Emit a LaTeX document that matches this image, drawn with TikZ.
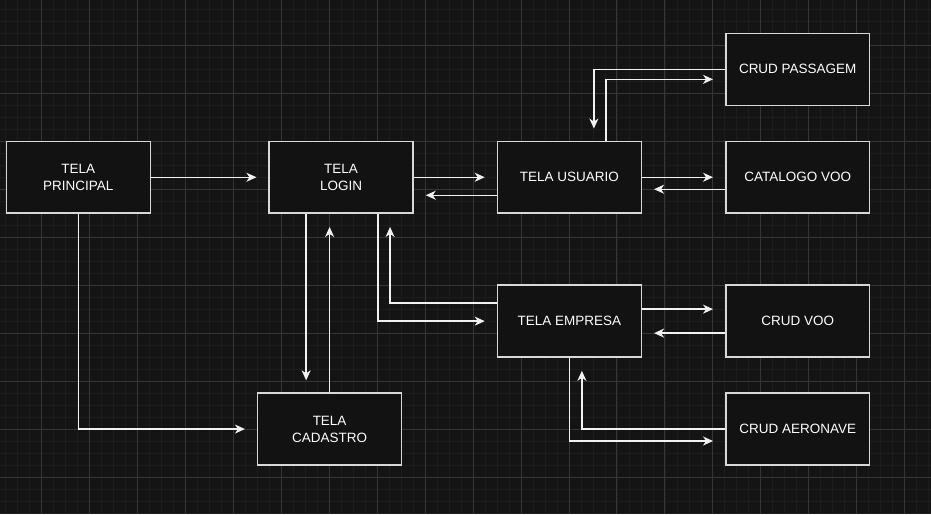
\documentclass[tikz,border=0pt]{standalone}
\usepackage{fontspec}
\setmainfont{Liberation Sans}
\usepackage{tikz}
\usetikzlibrary{arrows.meta,calc}
\definecolor{uibg}{HTML}{141414}
\definecolor{uigridmin}{HTML}{1D1D1D}
\definecolor{uigridmaj}{HTML}{363636}
\definecolor{uibox}{HTML}{121212}
\definecolor{uiline}{HTML}{D8D8D8}
\definecolor{uiarr}{HTML}{F2F2F2}

\begin{document}
\begin{tikzpicture}[
  x=1pt, y=-1pt,
  tela/.style={rectangle, draw=uiline, fill=uibox, line width=1.5pt,
               minimum width=144pt, minimum height=72pt, inner sep=0pt,
               align=center, text=white,
               font=\fontsize{13.5}{17}\selectfont},
  arr/.style={-{Stealth[length=10pt,width=9pt,inset=3pt]}, line width=1.4pt,
              draw=uiarr, shorten >=12pt}
]
  % background and grid
  \fill[uibg] (0,0) rectangle (931,514);
  \foreach \gx in {5,17,...,929} \draw[uigridmin, line width=0.6pt] (\gx,0) -- (\gx,514);
  \foreach \gy in {9,21,...,513} \draw[uigridmin, line width=0.6pt] (0,\gy) -- (931,\gy);
  \foreach \gx in {41,89,...,929} \draw[uigridmaj, line width=0.8pt] (\gx,0) -- (\gx,514);
  \foreach \gy in {45,93,...,513} \draw[uigridmaj, line width=0.8pt] (0,\gy) -- (931,\gy);

  % screens
  \node[tela] (princ) at (78,177)    {TELA\\PRINCIPAL};
  \node[tela] (login) at (341,177)   {TELA\\LOGIN};
  \node[tela] (cad)   at (329.5,429) {TELA\\CADASTRO};
  \node[tela] (usu)   at (569.5,177) {TELA USUARIO};
  \node[tela] (emp)   at (569.5,321) {TELA EMPRESA};
  \node[tela] (pas)   at (798,69)    {CRUD PASSAGEM};
  \node[tela] (cat)   at (798,177)   {CATALOGO VOO};
  \node[tela] (voo)   at (798,321)   {CRUD VOO};
  \node[tela] (aer)   at (798,429)   {CRUD AERONAVE};

  % flows
  \draw[arr] (princ.east) -- (login.west);
  \draw[arr] (princ.south) |- (cad.west);
  \draw[arr] (login.east) -- (usu.west);
  \draw[arr] ($(usu.west)+(0,18)$) -- ($(login.east)+(0,18)$);
  \draw[arr] ($(login.south)+(-35,0)$) -- ($(cad.north)+(-23.5,0)$);
  \draw[arr, shorten >=13pt] (cad.north) -- ($(login.south)+(-11.5,0)$);
  \draw[arr] ($(login.south)+(37,0)$) |- (emp.west);
  \draw[arr, shorten >=13pt] ($(emp.west)+(0,-18)$) -| ($(login.south)+(49,0)$);
  \draw[arr] ($(usu.north)+(36.5,0)$) |- ($(pas.west)+(0,10)$);
  \draw[arr] (pas.west) -| ($(usu.north)+(24.5,0)$);
  \draw[arr] (usu.east) -- (cat.west);
  \draw[arr] ($(cat.west)+(0,12)$) -- ($(usu.east)+(0,12)$);
  \draw[arr] ($(emp.east)+(0,-12)$) -- ($(voo.west)+(0,-12)$);
  \draw[arr] ($(voo.west)+(0,12)$) -- ($(emp.east)+(0,12)$);
  \draw[arr] (emp.south) |- ($(aer.west)+(0,12)$);
  \draw[arr, shorten >=13pt] (aer.west) -| ($(emp.south)+(12.5,0)$);
\end{tikzpicture}
\end{document}
